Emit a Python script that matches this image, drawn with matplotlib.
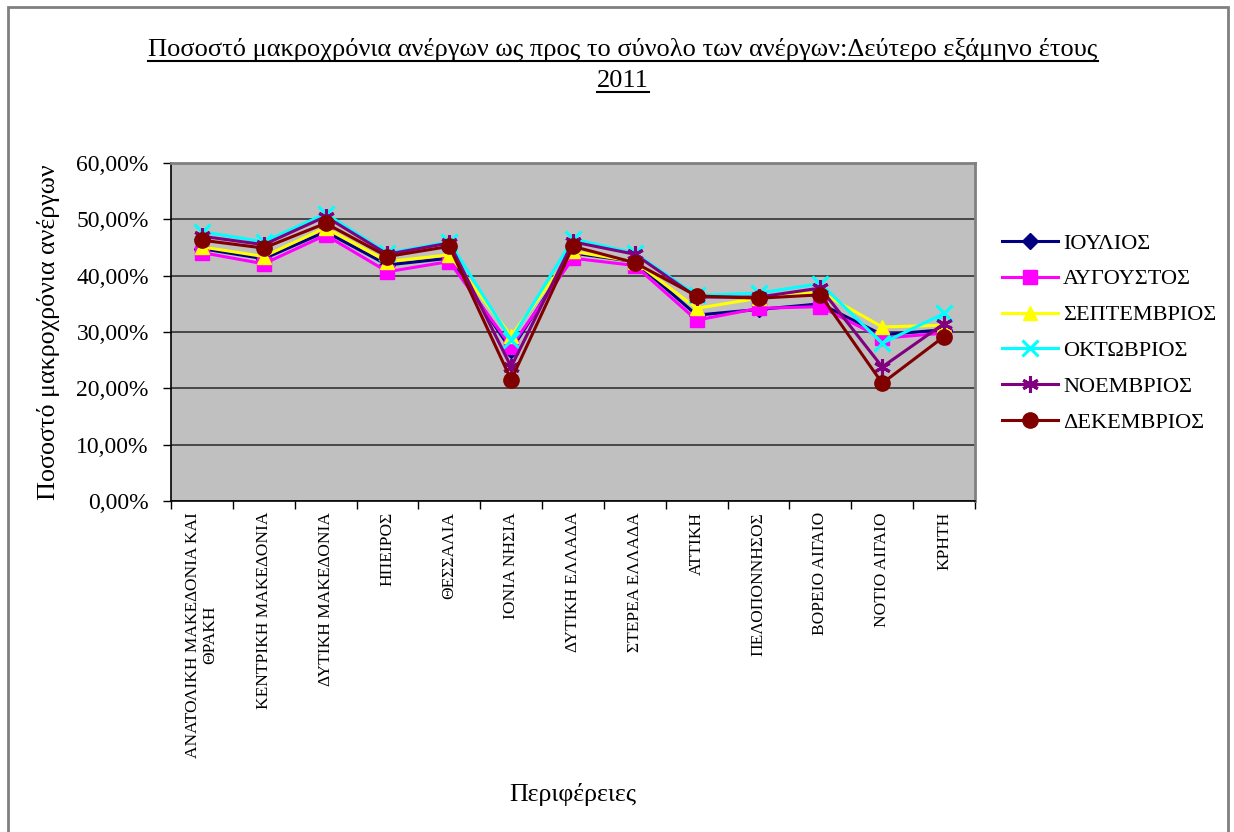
import matplotlib
matplotlib.use("Agg")
import matplotlib.pyplot as plt
from matplotlib.lines import Line2D
from matplotlib.patches import Rectangle
from matplotlib.ticker import FuncFormatter, FixedLocator, NullFormatter
import numpy as np

plt.rcParams['font.family'] = ['Liberation Serif', 'DejaVu Serif']

regions = ["ΑΝΑΤΟΛΙΚΗ ΜΑΚΕΔΟΝΙΑ ΚΑΙ\nΘΡΑΚΗ", "ΚΕΝΤΡΙΚΗ ΜΑΚΕΔΟΝΙΑ", "ΔΥΤΙΚΗ ΜΑΚΕΔΟΝΙΑ",
           "ΗΠΕΙΡΟΣ", "ΘΕΣΣΑΛΙΑ", "ΙΟΝΙΑ ΝΗΣΙΑ", "ΔΥΤΙΚΗ ΕΛΛΑΔΑ", "ΣΤΕΡΕΑ ΕΛΛΑΔΑ",
           "ΑΤΤΙΚΗ", "ΠΕΛΟΠΟΝΝΗΣΟΣ", "ΒΟΡΕΙΟ ΑΙΓΑΙΟ", "ΝΟΤΙΟ ΑΙΓΑΙΟ", "ΚΡΗΤΗ"]

months = ["ΙΟΥΛΙΟΣ", "ΑΥΓΟΥΣΤΟΣ", "ΣΕΠΤΕΜΒΡΙΟΣ", "ΟΚΤΩΒΡΙΟΣ", "ΝΟΕΜΒΡΙΟΣ", "ΔΕΚΕΜΒΡΙΟΣ"]

jul = [44.8, 43.0, 47.8, 41.9, 43.1, 26.8, 44.0, 42.5, 33.0, 34.0, 35.0, 29.5, 30.4]
aug = [44.1, 42.1, 47.2, 40.7, 42.5, 27.4, 43.1, 41.8, 32.1, 34.2, 34.5, 28.9, 29.8]
sep = [45.1, 43.4, 48.5, 42.5, 43.7, 29.3, 44.3, 42.5, 34.2, 36.0, 37.1, 30.9, 31.2]
oct_ = [47.8, 46.0, 51.0, 44.0, 46.0, 28.6, 46.5, 44.0, 36.5, 36.9, 38.6, 28.0, 33.3]
nov = [47.0, 45.5, 50.5, 43.8, 45.8, 23.8, 46.0, 43.8, 36.2, 36.2, 37.8, 23.8, 31.5]
dec = [46.3, 44.9, 49.3, 43.4, 45.2, 21.5, 45.2, 42.3, 36.4, 36.0, 36.6, 20.9, 29.2]

series = [jul, aug, sep, oct_, nov, dec]
colors = ["#000080", "#FF00FF", "#FFFF00", "#00FFFF", "#800080", "#800000"]
markers = ["D", "s", "^", "x", (6, 2, 0), "o"]
msizes = [8, 10, 10, 11, 12, 11]

W, H = 1234, 832
fig = plt.figure(figsize=(W / 100, H / 100), dpi=100)

# outer frame
fig.patches.append(Rectangle((8 / W, -0.05), (1228 - 8) / W, 1.05 - 7 / H,
                             transform=fig.transFigure, fill=False,
                             edgecolor="#808080", linewidth=2))

ax = fig.add_axes([171 / W, 1 - 501 / H, (975 - 171) / W, (501 - 163) / H])
ax.set_facecolor("#C0C0C0")

x = np.arange(len(regions))
for vals, c, m, ms, name in zip(series, colors, markers, msizes, months):
    mew = 2.2 if m in ("x", (6, 2, 0)) else 1
    ax.plot(x, vals, color=c, linewidth=2.2, marker=m, markersize=ms,
            markerfacecolor=c, markeredgecolor=c, markeredgewidth=mew,
            label=name, clip_on=False, zorder=3)

ax.set_xlim(-0.5, len(regions) - 0.5)
ax.set_ylim(0, 60)
ax.set_yticks(np.arange(0, 61, 10))
ax.yaxis.set_major_formatter(FuncFormatter(lambda v, p: f"{v:.2f}%".replace(".", ",")))
ax.grid(axis="y", color="#333333", linewidth=1.2)
ax.set_axisbelow(True)

ax.xaxis.set_major_locator(FixedLocator(np.arange(-0.5, len(regions), 1.0)))
ax.xaxis.set_major_formatter(NullFormatter())
ax.xaxis.set_minor_locator(FixedLocator(x))
ax.set_xticklabels(regions, minor=True, rotation=90, va="top", ha="center",
                   fontsize=12.5, multialignment="center", linespacing=1.1)
ax.tick_params(axis="x", which="minor", length=0, pad=8)
ax.tick_params(axis="x", which="major", length=6, width=1, direction="out")
ax.tick_params(axis="y", length=6, width=1, direction="out", labelsize=17, pad=10)

for s in ["top", "right"]:
    ax.spines[s].set_color("#808080")
    ax.spines[s].set_linewidth(2)
for s in ["left", "bottom"]:
    ax.spines[s].set_color("black")
    ax.spines[s].set_linewidth(1.2)

fig.text(48 / W, 1 - 332 / H, "Ποσοστό μακροχρόνια ανέργων", rotation=90,
         ha="center", va="center", fontsize=18.8)
fig.text(573 / W, 1 - 795 / H, "Περιφέρειες", ha="center", va="center", fontsize=18.6)

t1 = fig.text(623 / W, 1 - 56 / H, "Ποσοστό μακροχρόνια ανέργων ως προς το σύνολο των ανέργων:Δεύτερο εξάμηνο έτους",
              ha="center", va="baseline", fontsize=19)
t2 = fig.text(623 / W, 1 - 87 / H, "2011", ha="center", va="baseline", fontsize=19)

leg = fig.legend(loc="upper left", bbox_to_anchor=(1002 / W, 1 - 233 / H),
                 frameon=False, fontsize=16, handlelength=2.5, handletextpad=0.25,
                 labelspacing=0.69, borderaxespad=0, borderpad=0)

fig.canvas.draw()
r = fig.canvas.get_renderer()
for t in (t1, t2):
    bb = t.get_window_extent(r)
    yb = t.get_position()[1] * H - 5
    fig.add_artist(Line2D([bb.x0 / W, bb.x1 / W], [yb / H, yb / H],
                          transform=fig.transFigure, color="black", linewidth=1.5))

fig.savefig("out.png", dpi=100)
